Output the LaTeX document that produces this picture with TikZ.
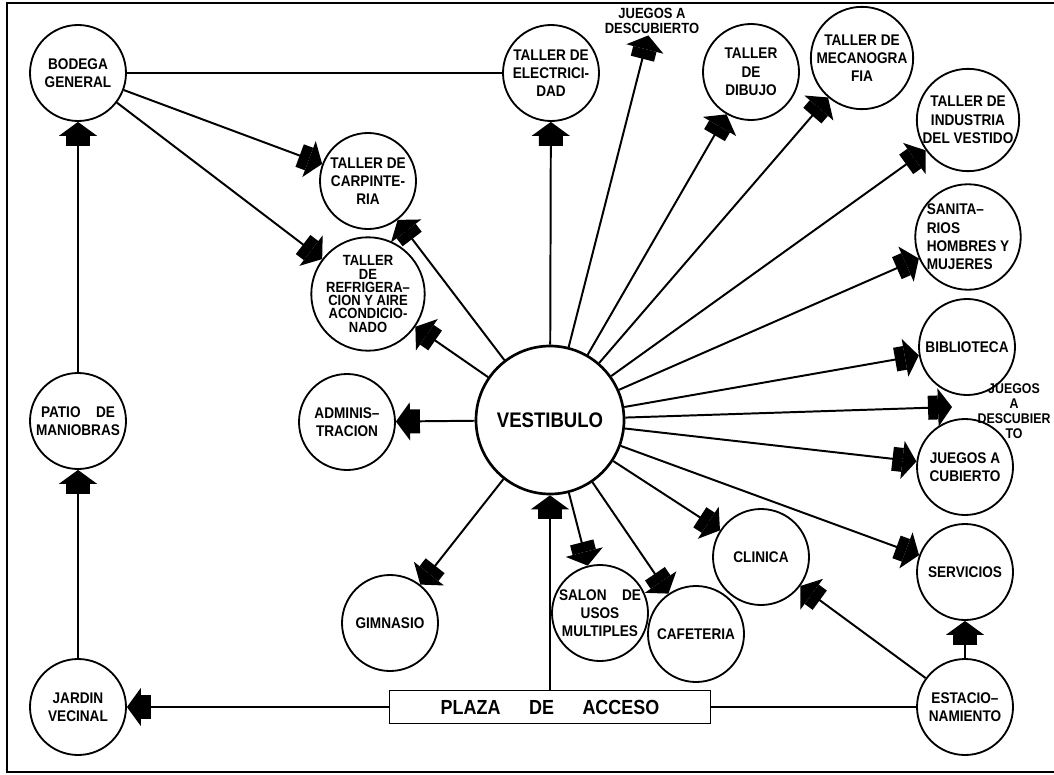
\documentclass[tikz,border=0pt]{standalone}
\usepackage{fontspec}
\setsansfont{Liberation Sans}[FakeStretch=0.88]
\usepackage{tikz}
\usetikzlibrary{arrows.meta}
\tikzset{local/.style={circle, draw, line width=1.3pt, minimum size=24mm, inner sep=0pt,
  align=center, font=\sffamily\bfseries\fontsize{11}{13}\selectfont},
  rotulo/.style={inner sep=1pt, align=center, font=\sffamily\bfseries\fontsize{10.5}{10.7}\selectfont},
  flujo/.style={line width=1.4pt,
  -{Rectangle[length=2.5mm,width=6mm,sep=0pt] Triangle[length=3.5mm,width=9.5mm,sep=0pt]}},
  enlace/.style={line width=1.4pt}}

\begin{document}
\begin{tikzpicture}[x=0.25mm, y=-0.25mm]
  \useasboundingbox (0,0) rectangle (1054,774);
  \draw[line width=1.4pt] (1054,3) -- (7,3) -- (7,772) -- (1054,772);
  \node[local, minimum size=37mm, line width=1.9pt,
    font=\sffamily\bfseries\fontsize{15}{18}\selectfont] (vest) at (550,420) {VESTIBULO};
  \node[local] (bod) at (78,73) {BODEGA\\GENERAL};
  \node[local] (elec) at (551,73) {TALLER DE\\ELECTRICI-\\DAD};
  \node[rotulo] (jdesA) at (652,21) {JUEGOS A\\DESCUBIERTO};
  \node[local] (dib) at (751,72) {TALLER\\DE\\DIBUJO};
  \node[local] (meca) at (862,58) {TALLER DE\\MECANOGRA\\FIA};
  \node[local] (ind) at (968,120) {TALLER DE\\INDUSTRIA\\DEL VESTIDO};
  \node[local, align=left] (san) at (968,237) {SANITA--\\RIOS\\HOMBRES Y\\MUJERES};
  \node[local] (bib) at (967,347) {BIBLIOTECA};
  \node[rotulo, font=\sffamily\bfseries\fontsize{10}{10.7}\selectfont] (jdesB) at (1014,411)
    {JUEGOS\\A\\DESCUBIER\\TO};
  \coordinate (pjdes) at (952,407);
  \node[local] (jcub) at (965,467) {JUEGOS A\\CUBIERTO};
  \node[local] (serv) at (965,572) {SERVICIOS};
  \node[local] (est) at (965,707) {ESTACIO--\\NAMIENTO};
  \node[local] (cli) at (761,557) {CLINICA};
  \node[local] (caf) at (696,634) {CAFETERIA};
  \node[local] (salon) at (600,613) {SALON\quad DE\\USOS\\MULTIPLES};
  \node[local] (gim) at (390,623) {GIMNASIO};
  \node[draw, line width=1.3pt, minimum width=80.25mm, minimum height=8.25mm,
    font=\sffamily\bfseries\fontsize{14.5}{16}\selectfont] (plaza) at (550,707)
    {PLAZA\hspace{1.4em}DE\hspace{1.4em}ACCESO};
  \node[local] (jar) at (78,707) {JARDIN\\VECINAL};
  \node[local] (pat) at (78,421) {PATIO\quad DE\\MANIOBRAS};
  \node[local] (adm) at (347,422) {ADMINIS--\\TRACION};
  \node[local] (carp) at (368,181) {TALLER DE\\CARPINTE-\\RIA};
  \node[local, font=\sffamily\bfseries\fontsize{10.5}{9.4}\selectfont] (refr) at (368,294)
    {TALLER\\DE\\REFRIGERA--\\CION Y AIRE\\ACONDICIO-\\NADO};

  \draw[enlace] (bod) -- (elec);
  \draw[enlace] (plaza) -- (est);
  \draw[flujo] (bod) -- (carp);
  \draw[flujo] (bod) -- (refr);
  \draw[flujo] (pat) -- (bod);
  \draw[flujo] (jar) -- (pat);
  \draw[flujo] (plaza) -- (jar);
  \draw[flujo] (plaza) -- (vest);
  \draw[flujo] (est) -- (serv);
  \draw[flujo] (est) -- (cli);
  \foreach \dest in {elec, jdesA, dib, meca, ind, san, bib, pjdes, jcub, serv, cli, caf,
    salon, gim, adm, refr, carp}
    \draw[flujo] (vest) -- (\dest);
\end{tikzpicture}
\end{document}
